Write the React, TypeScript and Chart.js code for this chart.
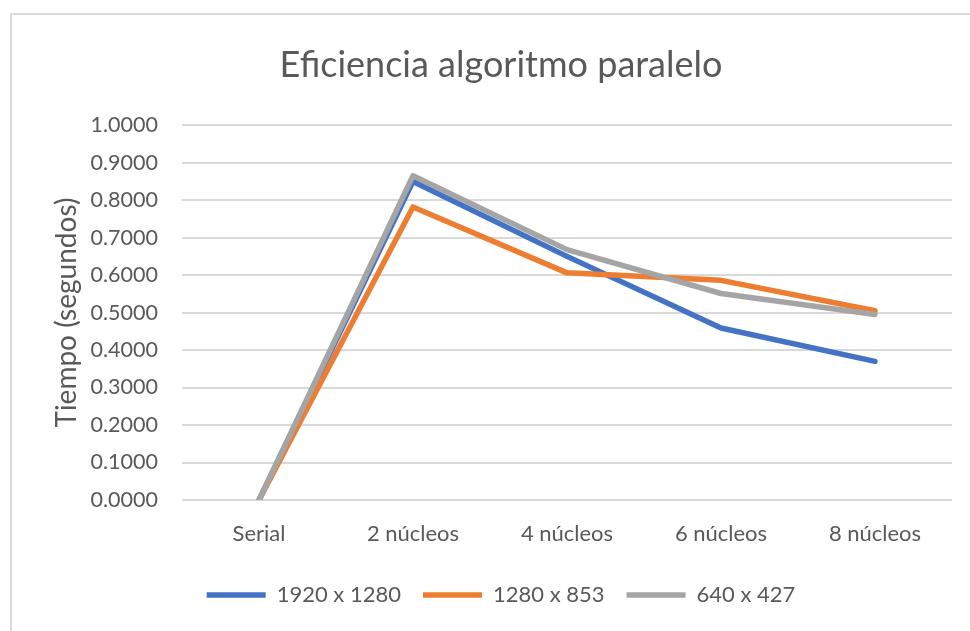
import React, { useEffect, useRef } from "react";
import { Chart, registerables } from "chart.js";

Chart.register(...registerables);

const categories = ["Serial", "2 núcleos", "4 núcleos", "6 núcleos", "8 núcleos"];
const serie1920 = [0, 0.85, 0.65, 0.459, 0.37];
const serie1280 = [0, 0.782, 0.606, 0.586, 0.505];
const serie640 = [0, 0.865, 0.668, 0.551, 0.495];
const seriesLabels = ["1920 x 1280", "1280 x 853", "640 x 427"];
const titleText = "Eficiencia algoritmo paralelo";
const yTitle = "Tiempo (segundos)";

const FONT = "Lato, 'Open Sans', sans-serif";
const TEXT = "#595959";

export default function App() {
  const ref = useRef<HTMLCanvasElement | null>(null);
  useEffect(() => {
    if (!ref.current) return;
    const mk = (label: string, data: number[], color: string, order: number) => ({
      label,
      data,
      borderColor: color,
      backgroundColor: color,
      borderWidth: 5.5,
      pointRadius: 0,
      pointHoverRadius: 0,
      tension: 0,
      borderCapStyle: "round" as const,
      borderJoinStyle: "round" as const,
      order,
    });
    const chart = new Chart(ref.current, {
      type: "line",
      data: {
        labels: categories,
        datasets: [
          mk(seriesLabels[0], serie1920, "#4472C4", 3),
          mk(seriesLabels[1], serie1280, "#ED7D31", 2),
          mk(seriesLabels[2], serie640, "#A5A5A5", 1),
        ],
      },
      options: {
        animation: false,
        responsive: false,
        devicePixelRatio: 1,
        layout: { padding: { left: 50, top: 10, right: 18, bottom: 15 } },
        plugins: {
          title: {
            display: true,
            text: titleText,
            color: TEXT,
            font: { family: FONT, size: 36, weight: "normal" },
            padding: { top: 34, bottom: 38 },
          },
          legend: {
            position: "bottom",
            labels: {
              color: TEXT,
              font: { family: FONT, size: 22 },
              usePointStyle: true,
              pointStyle: "line",
              pointStyleWidth: 59,
              boxHeight: 6,
              padding: 22,
              sort: (a: any, b: any) => a.datasetIndex - b.datasetIndex,
            },
          },
          tooltip: { enabled: false },
        },
        scales: {
          x: {
            offset: true,
            grid: { display: false, drawTicks: false },
            border: { display: false },
            ticks: { color: TEXT, font: { family: FONT, size: 22 }, padding: 21, maxRotation: 0 },
            afterFit: (s: any) => { s.height = 62; },
          },
          y: {
            min: 0,
            max: 1,
            grid: { color: "#d9d9d9", lineWidth: 2, drawTicks: false },
            border: { display: false },
            ticks: {
              stepSize: 0.1,
              color: TEXT,
              font: { family: FONT, size: 21.5 },
              padding: 24,
              callback: (v: any) => Number(v).toFixed(4),
            },
            title: {
              display: true,
              text: yTitle,
              color: TEXT,
              font: { family: FONT, size: 28 },
              padding: 0,
            },
            afterFit: (s: any) => { s.width = 132; },
          },
        },
      },
    });
    return () => chart.destroy();
  }, []);
  return (
    <div style={{ position: "fixed", left: 0, top: 0, width: 970, height: 631, background: "#fff", overflow: "hidden" }}>
      <div style={{ position: "absolute", left: 10, top: 13, width: 980, height: 640, border: "2px solid #d9d9d9", boxSizing: "border-box" }} />
      <canvas ref={ref} width={970} height={631} style={{ position: "absolute", left: 0, top: 0 }} />
    </div>
  );
}
